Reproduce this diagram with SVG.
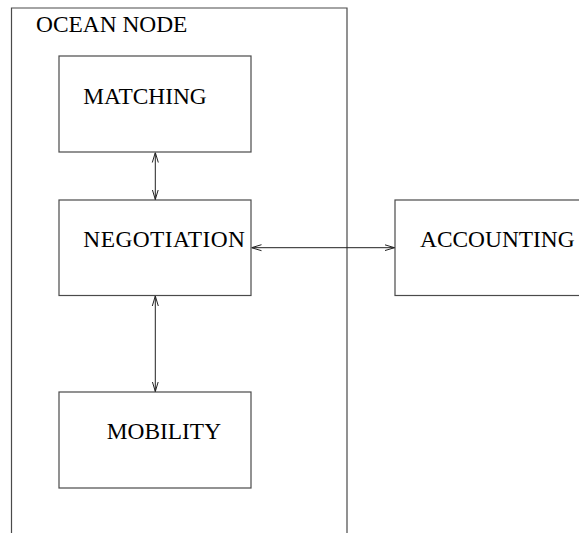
<svg xmlns="http://www.w3.org/2000/svg" width="579" height="533" viewBox="0 0 579 533">
<style>
.box{fill:none;stroke:#4a4a4a;stroke-width:1.2}
.lbl{font-family:"Liberation Serif","Times New Roman",serif;font-size:23.4px;fill:#000}
.conn{stroke:#222;stroke-width:1;fill:none}
</style>
<defs>
<marker id="ah" viewBox="0 0 10 8" refX="10" refY="4" markerWidth="10" markerHeight="8" markerUnits="userSpaceOnUse" orient="auto-start-reverse">
<path d="M0,1 L10,4 L0,7" fill="none" stroke="#222" stroke-width="1"/>
</marker>
</defs>
<rect width="579" height="533" fill="#fff"/>
<g id="ocean-node">
<path class="box" d="M11.5,540 V8 H347 V540"/>
<text class="lbl" x="36" y="31.5">OCEAN NODE</text>
</g>
<g id="matching">
<rect class="box" x="59" y="56" width="192" height="96"/>
<text class="lbl" x="83.3" y="104">MATCHING</text>
</g>
<g id="negotiation">
<rect class="box" x="59" y="200" width="192" height="95.5"/>
<text class="lbl" x="83.3" y="247" textLength="161.7">NEGOTIATION</text>
</g>
<g id="mobility">
<rect class="box" x="59" y="392" width="192" height="96"/>
<text class="lbl" x="106.7" y="439.3">MOBILITY</text>
</g>
<g id="accounting">
<rect class="box" x="395" y="200" width="200" height="95.5"/>
<text class="lbl" x="420" y="247">ACCOUNTING</text>
</g>
<g id="connectors">
<line class="conn" x1="155.3" y1="152.5" x2="155.3" y2="199.5" marker-start="url(#ah)" marker-end="url(#ah)"/>
<line class="conn" x1="155.3" y1="296" x2="155.3" y2="391.5" marker-start="url(#ah)" marker-end="url(#ah)"/>
<line class="conn" x1="251.5" y1="247.7" x2="394.5" y2="247.7" marker-start="url(#ah)" marker-end="url(#ah)"/>
</g>
</svg>
